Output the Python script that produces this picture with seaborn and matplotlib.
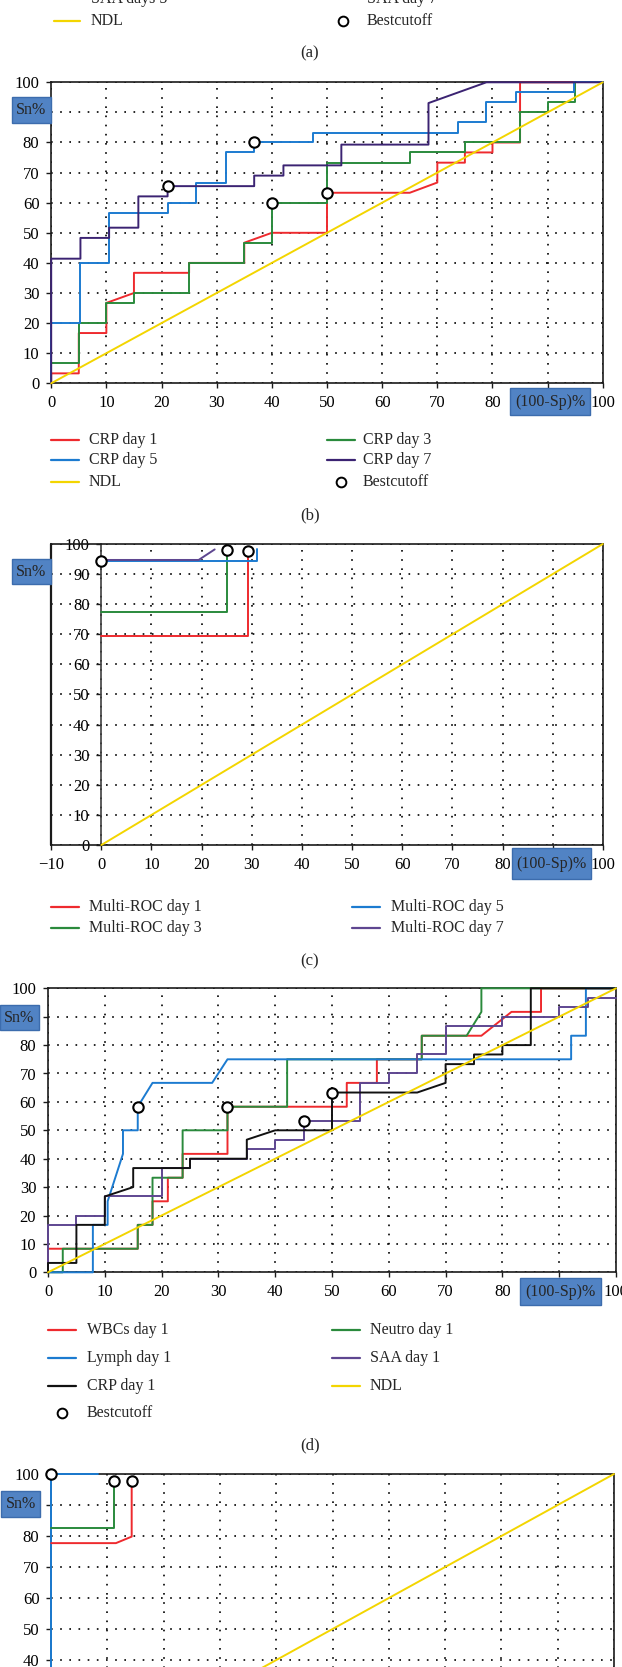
import matplotlib
matplotlib.use('Agg')
import matplotlib.pyplot as plt
from matplotlib.lines import Line2D
from matplotlib.patches import Rectangle
import seaborn as sns

W, H = 622, 1667

# ---------------- data ----------------
# panel (b): CRP
crp1_x = [0, 0, 5, 5, 10, 10, 15, 15, 25, 25, 35, 35, 40, 50, 50, 65, 70, 70, 75, 75, 80, 80, 85, 85, 95]
crp1_y = [0, 3.3, 3.3, 16.7, 16.7, 26.7, 30, 36.7, 36.7, 40, 40, 46.7, 50, 50, 63.3, 63.3, 66.7, 73.3, 73.3, 76.7, 76.7, 80, 80, 100, 100]
crp3_x = [0, 0, 5, 5, 10, 10, 15, 15, 25, 25, 35, 35, 40, 40, 50, 50, 65, 65, 75, 75, 85, 85, 90, 90, 95, 95, 100]
crp3_y = [0, 6.7, 6.7, 20, 20, 26.7, 26.7, 30, 30, 40, 40, 46.7, 46.7, 60, 60, 73.3, 73.3, 76.7, 76.7, 80, 80, 90, 90, 93.3, 93.3, 100, 100]
crp5_x = [0, 0, 5.3, 5.3, 10.5, 10.5, 21.1, 21.1, 26.3, 26.3, 31.6, 31.6, 36.8, 36.8, 47.4, 47.4, 73.7, 73.7, 78.9, 78.9, 84.2, 84.2, 94.7, 94.7, 100]
crp5_y = [0, 20, 20, 40, 40, 56.7, 56.7, 60, 60, 66.7, 66.7, 76.7, 76.7, 80, 80, 83.3, 83.3, 86.7, 86.7, 93.3, 93.3, 96.7, 96.7, 100, 100]
crp7_x = [0, 0, 5.3, 5.3, 10.5, 10.5, 15.8, 15.8, 21.1, 21.1, 36.8, 36.8, 42.1, 42.1, 52.6, 52.6, 68.4, 68.4, 78.9, 100]
crp7_y = [0, 41.4, 41.4, 48.3, 48.3, 51.7, 51.7, 62.1, 62.1, 65.5, 65.5, 69.0, 69.0, 72.4, 72.4, 79.3, 79.3, 93.1, 100, 100]
cut_b_x = [21.1, 36.8, 40, 50]
cut_b_y = [65.5, 80, 60, 63.3]

# panel (c): Multi-ROC
mr1_x = [0, 29.2, 29.2]
mr1_y = [69.5, 69.5, 97.8]
mr3_x = [0, 25, 25]
mr3_y = [77.5, 77.5, 98]
mr5_x = [0, 31, 31]
mr5_y = [94.3, 94.3, 98.4]
mr7_x = [0, 19.4, 22.6]
mr7_y = [94.7, 94.7, 98.2]
cut_c_x = [0, 25, 29.2]
cut_c_y = [94.5, 98, 97.8]

# panel (d): day 1 markers
wbc_x = [0, 0, 15.8, 15.8, 18.4, 18.4, 21.1, 21.1, 23.7, 23.7, 31.6, 31.6, 52.6, 52.6, 57.9, 57.9, 65.8, 65.8, 76.3, 81.6, 86.8, 86.8, 100]
wbc_y = [0, 8.3, 8.3, 16.7, 16.7, 25, 25, 33.3, 33.3, 41.7, 41.7, 58.3, 58.3, 66.7, 66.7, 75, 75, 83.3, 83.3, 91.7, 91.7, 100, 100]
neu_x = [0, 2.6, 2.6, 15.8, 15.8, 18.4, 18.4, 23.7, 23.7, 31.6, 31.6, 42.1, 42.1, 65.8, 65.8, 73.7, 76.3, 76.3, 100]
neu_y = [0, 0, 8.3, 8.3, 16.7, 16.7, 33.3, 33.3, 50, 50, 58.3, 58.3, 75, 75, 83.3, 83.3, 91.7, 100, 100]
lym_x = [0, 7.9, 7.9, 10.5, 10.5, 13.2, 13.2, 15.8, 15.8, 18.4, 28.9, 31.6, 92.1, 92.1, 94.7, 94.7, 100]
lym_y = [0, 0, 16.7, 16.7, 25, 41.7, 50, 50, 58.3, 66.7, 66.7, 75, 75, 83.3, 83.3, 100, 100]
saa_x = [0, 0, 5, 5, 10, 10, 20, 20, 25, 25, 35, 35, 40, 40, 45, 45, 55, 55, 60, 60, 65, 65, 70, 70, 80, 80, 90, 90, 95, 95, 100]
saa_y = [0, 16.7, 16.7, 20, 20, 26.7, 26.7, 36.7, 36.7, 40, 40, 43.3, 43.3, 46.7, 46.7, 53.3, 53.3, 66.7, 66.7, 70, 70, 76.7, 76.7, 86.7, 86.7, 90, 90, 93.3, 93.3, 96.7, 96.7]
crpd_x = [0, 0, 5, 5, 10, 10, 15, 15, 25, 25, 35, 35, 40, 50, 50, 65, 70, 70, 75, 75, 80, 80, 85, 85, 100]
crpd_y = [0, 3.3, 3.3, 16.7, 16.7, 26.7, 30, 36.7, 36.7, 40, 40, 46.7, 50, 50, 63.3, 63.3, 66.7, 73.3, 73.3, 76.7, 76.7, 80, 80, 100, 100]
cut_d_x = [15.8, 31.6, 45, 50]
cut_d_y = [58.3, 58.3, 53.3, 63.3]

# panel (e): partly visible
e_blue_x = [0, 0, 8.3]
e_blue_y = [0, 100, 100]
e_green_x = [0, 11.1, 11.1]
e_green_y = [82.5, 82.5, 97.8]
e_red_x = [0, 11.5, 14.3, 14.3]
e_red_y = [77.7, 77.7, 79.8, 97.8]
cut_e_x = [0, 11.1, 14.3]
cut_e_y = [100, 97.8, 97.8]

ndl = [0, 100]

RED = '#EE2A2E'
GREEN = '#2A8A3C'
BLUE = '#1C7BD0'
DPURPLE = '#3B2372'
PURPLE = '#5E4690'
LBLUE = '#6FAAE6'
YELLOW = '#F3D500'
BLACK = '#111111'
BOX = '#5183C4'

sns.set_theme(style='white')
plt.rcParams['font.family'] = ['Liberation Serif', 'DejaVu Serif']

fig = plt.figure(figsize=(W / 100, H / 100), dpi=100)
fig.patch.set_facecolor('white')


def fx(x):
    return x / W


def fy(y):
    return 1 - y / H


def make_axes(left, right, top, bottom, xmin=0, hide_x90=True, hide_y90=True):
    ax = fig.add_axes([fx(left), fy(bottom), (right - left) / W, (bottom - top) / H])
    ax.set_xlim(xmin, 100)
    ax.set_ylim(0, 100)
    xt = list(range(xmin, 101, 10))
    yt = list(range(0, 101, 10))
    ax.set_xticks(xt)
    ax.set_yticks(yt)
    # the blue boxes sit over the 90 labels in the original
    ax.set_xticklabels(['' if (v == 90 and hide_x90) else str(v).replace('-', '\u2212') for v in xt])
    ax.set_yticklabels(['' if (v == 90 and hide_y90) else str(v) for v in yt])
    ax.grid(True, color='black', linestyle=(0, (1, 4.5)), linewidth=1.2)
    ax.set_axisbelow(True)
    for s in ax.spines.values():
        s.set_visible(True)
        s.set_color('#1a1a1a')
        s.set_linewidth(1.2)
    ax.tick_params(direction='out', length=3.5, width=1, color='#1a1a1a',
                   labelsize=12, pad=5, left=True, bottom=True, labelcolor='black')
    ax.set_facecolor('white')
    return ax


def curve(ax, xs, ys, color, lw=1.4):
    sns.lineplot(x=xs, y=ys, sort=False, estimator=None, color=color, lw=lw,
                 ax=ax, zorder=3, clip_on=False)


def cutoffs(ax, xs, ys):
    sns.scatterplot(x=xs, y=ys, s=56, facecolor='white', edgecolor='black',
                    linewidth=1.5, ax=ax, zorder=6, clip_on=False)


def finish(ax):
    ax.set_xlabel('')
    ax.set_ylabel('')


def blue_box(x0, y0, x1, y1, label):
    fig.add_artist(Rectangle((fx(x0), fy(y1)), (x1 - x0) / W, (y1 - y0) / H,
                             transform=fig.transFigure, fc=BOX, ec='#3C6CAD', lw=1, zorder=4))
    fig.text(fx((x0 + x1) / 2), fy((y0 + y1) / 2), label, ha='center', va='center',
             fontsize=11.5, zorder=5)


def legend_item(y, x0, x1, xt, label, color=None, marker=False):
    if marker:
        fig.add_artist(Line2D([fx((x0 + x1) / 2)], [fy(y)], marker='o', ms=7, mfc='white',
                              mec='black', mew=1.4, ls='none', transform=fig.transFigure))
    else:
        fig.add_artist(Line2D([fx(x0), fx(x1)], [fy(y), fy(y)], color=color, lw=1.6,
                              transform=fig.transFigure))
    fig.text(fx(xt), fy(y), label, ha='left', va='center', fontsize=11.5)


def caption(y, label):
    fig.text(fx(310), fy(y), label, ha='center', va='center', fontsize=12)


# ---------------- (a) legend tail ----------------
legend_item(-1, 54, 80, 91, 'SAA days 5', LBLUE)
legend_item(-1, 330, 356, 367, 'SAA day 7', DPURPLE)
legend_item(20.7, 54, 80, 91, 'NDL', YELLOW)
legend_item(20.7, 330, 356, 367, 'Bestcutoff', marker=True)
caption(53, '(a)')

# ---------------- (b) ----------------
ax = make_axes(51.2, 602.8, 82.3, 383.3)
curve(ax, crp1_x, crp1_y, RED)
curve(ax, crp3_x, crp3_y, GREEN)
curve(ax, crp5_x, crp5_y, BLUE)
curve(ax, crp7_x, crp7_y, DPURPLE)
curve(ax, ndl, ndl, YELLOW)
cutoffs(ax, cut_b_x, cut_b_y)
finish(ax)
blue_box(12, 97, 50.8, 123, 'Sn%')
blue_box(510, 388, 590, 415, '(100-Sp)%')
legend_item(440, 51, 79, 89, 'CRP day 1', RED)
legend_item(440, 327, 355, 363, 'CRP day 3', GREEN)
legend_item(460.5, 51, 79, 89, 'CRP day 5', BLUE)
legend_item(460.5, 327, 355, 363, 'CRP day 7', DPURPLE)
legend_item(482, 51, 79, 89, 'NDL', YELLOW)
legend_item(482, 327, 355, 363, 'Bestcutoff', marker=True)
caption(515, '(b)')

# ---------------- (c) ----------------
ax = make_axes(51.2, 602.8, 544, 845, xmin=-10, hide_y90=False)
ax.spines['left'].set_position(('data', 0))
ax.spines['left'].set_color('#404040')
ax.axvline(-10, color='#1a1a1a', lw=1.6, clip_on=False, zorder=2.5)
curve(ax, mr1_x, mr1_y, RED)
curve(ax, mr3_x, mr3_y, GREEN)
curve(ax, mr5_x, mr5_y, BLUE)
curve(ax, mr7_x, mr7_y, PURPLE)
curve(ax, ndl, ndl, YELLOW)
cutoffs(ax, cut_c_x, cut_c_y)
finish(ax)
blue_box(12, 559, 50.8, 584, 'Sn%')
blue_box(512, 848, 591, 879, '(100-Sp)%')
legend_item(907, 51, 79, 89, 'Multi-ROC day 1', RED)
legend_item(907, 352, 380, 391, 'Multi-ROC day 5', BLUE)
legend_item(928, 51, 79, 89, 'Multi-ROC day 3', GREEN)
legend_item(928, 352, 380, 391, 'Multi-ROC day 7', PURPLE)
caption(961, '(c)')

# ---------------- (d) ----------------
ax = make_axes(48, 616, 988.3, 1272.3)
curve(ax, wbc_x, wbc_y, RED)
curve(ax, neu_x, neu_y, GREEN)
curve(ax, lym_x, lym_y, BLUE)
curve(ax, saa_x, saa_y, PURPLE)
curve(ax, crpd_x, crpd_y, BLACK)
curve(ax, ndl, ndl, YELLOW)
cutoffs(ax, cut_d_x, cut_d_y)
finish(ax)
blue_box(0, 1005, 38.8, 1030, 'Sn%')
blue_box(520, 1278, 601, 1305, '(100-Sp)%')
legend_item(1330, 48, 76, 87, 'WBCs day 1', RED)
legend_item(1330, 332, 360, 370, 'Neutro day 1', GREEN)
legend_item(1358, 48, 76, 87, 'Lymph day 1', BLUE)
legend_item(1358, 332, 360, 370, 'SAA day 1', PURPLE)
legend_item(1386, 48, 76, 87, 'CRP day 1', BLACK)
legend_item(1386, 332, 360, 370, 'NDL', YELLOW)
legend_item(1413, 48, 76, 87, 'Bestcutoff', marker=True)
caption(1445, '(d)')

# ---------------- (e), cut off at the bottom ----------------
ax = make_axes(51.2, 614, 1474, 1784)
curve(ax, e_blue_x, e_blue_y, BLUE)
curve(ax, e_green_x, e_green_y, GREEN)
curve(ax, e_red_x, e_red_y, RED)
curve(ax, ndl, ndl, YELLOW)
cutoffs(ax, cut_e_x, cut_e_y)
finish(ax)
blue_box(1.2, 1491, 40, 1517, 'Sn%')

fig.savefig('out.png', dpi=100)
